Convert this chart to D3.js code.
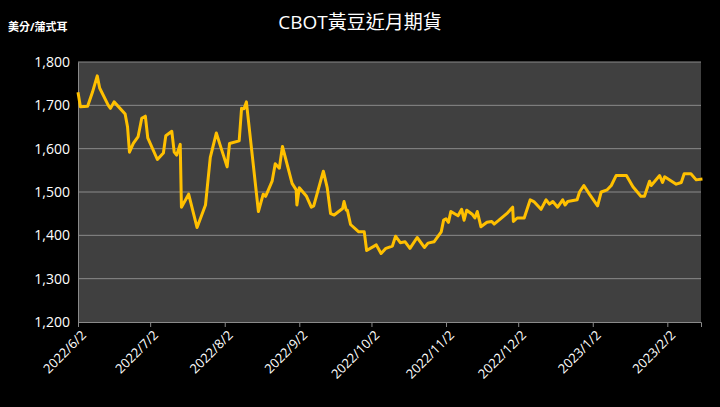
<!DOCTYPE html><html><head><meta charset="utf-8"><script src="https://cdn.jsdelivr.net/npm/d3@7"></script>
<style>body{margin:0;background:#000}</style></head><body><svg id="c" width="720" height="407"></svg><script>
const startDate="2022-06-02";
const dayOffsets=[0,1,4,6,8,9,12.6,13.5,15,19.6,20.6,21.4,23,25,26.5,28,29,33,35.5,36.5,39,40,41,42.5,43,46,49.5,53,55,57.5,59,62,63,67,68,69,70,75,77,78,80.7,82,83.7,85,89,90.7,91,92,95,97,98,102,103.6,105,106.5,110,110.6,111.5,112,113.3,116.7,119,120,124,126,128,130.7,132,134,136,138,141,144,145.5,148,151,152,153,154,155,158,159.5,160.5,161.6,164,165,166,167.5,170,172,173,175,178.6,180.7,181,182.6,185.5,188,189.5,192.5,194.6,196,197.4,199.4,201.5,202.5,203.6,207.5,208.5,210.3,212.6,216,217.5,220,221.7,223.7,228,230.7,234,235.5,237.6,238.3,241.8,243,243.9,248.7,250.8,252,254.8,257,259.6];
const prices=[1730,1697,1698,1730,1768,1740,1700,1693,1708,1680,1650,1592,1612,1628,1670,1675,1625,1575,1590,1630,1640,1592,1585,1610,1465,1495,1418,1470,1580,1636,1610,1558,1612,1618,1693,1692,1708,1455,1495,1490,1525,1565,1555,1605,1520,1505,1470,1510,1490,1465,1468,1548,1510,1450,1447,1462,1478,1458,1458,1425,1408,1408,1365,1378,1358,1370,1375,1398,1383,1385,1370,1395,1372,1382,1385,1408,1435,1438,1430,1455,1445,1460,1435,1458,1448,1440,1455,1420,1430,1432,1426,1435,1452,1465,1432,1440,1440,1482,1478,1460,1482,1472,1478,1465,1482,1470,1478,1482,1500,1515,1495,1468,1500,1505,1515,1538,1538,1512,1490,1490,1525,1515,1538,1522,1535,1518,1522,1542,1542,1528,1530];
const xTicks=["2022-06-02","2022-07-02","2022-08-02","2022-09-02","2022-10-02","2022-11-02","2022-12-02","2023-01-02","2023-02-02"];
const yTicks=[1200,1300,1400,1500,1600,1700,1800];
const title="CBOT黃豆近月期貨", unit="美分/蒲式耳";
const parse=d3.timeParse("%Y-%m-%d"), fmt=d3.timeFormat("%Y/%-m/%-d");
const t0=parse(startDate);
const data=dayOffsets.map((o,i)=>({d:new Date(t0.getTime()+o*864e5),v:prices[i]}));
const L=78,R=701,T=62,B=322;
const x=d3.scaleTime().domain([t0,d3.timeDay.offset(t0,259.6)]).range([L,R]);
const y=d3.scaleLinear().domain([1200,1800]).range([B,T]);
const svg=d3.select("#c");const F="'Open Sans','Noto Sans CJK TC',sans-serif";
svg.append("rect").attr("width",720).attr("height",407).attr("fill","#000");
svg.append("rect").attr("x",L).attr("y",T).attr("width",R-L).attr("height",B-T).attr("fill","#404040");
svg.append("g").selectAll("line").data(yTicks.slice(1)).join("line").attr("x1",L).attr("x2",R).attr("y1",d=>y(d)).attr("y2",d=>y(d)).attr("stroke","#8a8a8a").attr("stroke-width",1);
const ya=svg.append("g").attr("transform",`translate(${L},0)`).call(d3.axisLeft(y).tickValues(yTicks).tickFormat(d3.format(",")).tickSize(0).tickPadding(8));
ya.select(".domain").attr("stroke","#8a8a8a");ya.selectAll("text").attr("fill","#fff").attr("font-size",14).attr("font-family",F);
const xa=svg.append("g").attr("transform",`translate(0,${B})`).call(d3.axisBottom(x).tickValues(xTicks.map(parse)).tickFormat(fmt).tickSize(5));
xa.selectAll("line,.domain").attr("stroke","#8a8a8a");
xa.selectAll("text").attr("fill","#fff").attr("font-size",13).attr("font-family",F).attr("text-anchor","end").attr("dx","-0.3em").attr("dy","0.6em").attr("transform","rotate(-45)");
svg.append("path").datum(data).attr("d",d3.line().x(d=>x(d.d)).y(d=>y(d.v))).attr("fill","none").attr("stroke","#FFC000").attr("stroke-width",3).attr("stroke-linejoin","round");
svg.append("text").attr("x",360).attr("y",29).attr("text-anchor","middle").attr("fill","#fff").attr("font-size",19).attr("font-family",F).text(title);
svg.append("text").attr("x",8).attr("y",31).attr("fill","#fff").attr("font-size",11).attr("font-weight","bold").attr("font-family",F).text(unit);
</script></body></html>
